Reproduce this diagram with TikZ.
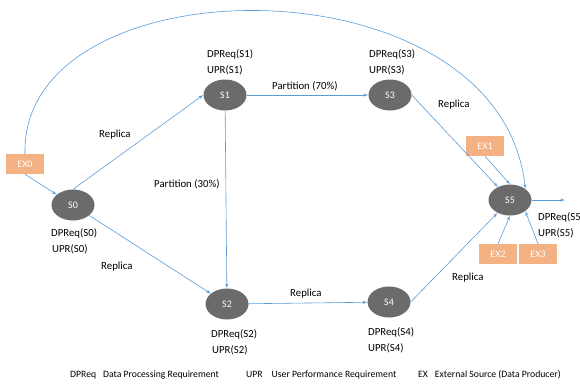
\documentclass[tikz,border=0pt]{standalone}
\usepackage{fontspec}
\setmainfont{Carlito}
\usetikzlibrary{arrows}
\usetikzlibrary{shapes.geometric}
\definecolor{linkblue}{HTML}{5B9BD5}
\definecolor{stngray}{HTML}{6B6B6B}
\definecolor{exorange}{HTML}{F4B183}
\tikzset{stn/.style = {ellipse, fill=stngray, text=white, minimum width=43, minimum height=31, inner sep=0,
                       font=\fontsize{10}{12}\selectfont}}
\tikzset{exbox/.style = {rectangle, fill=exorange, text=white, minimum width=38, minimum height=20, inner sep=0,
                         font=\fontsize{10}{12}\selectfont}}
\tikzset{link/.style = {draw=linkblue, line width=0.6, -latex'}}
\tikzset{lbl/.style = {anchor=west, inner sep=0, font=\fontsize{10.8}{12}\selectfont}}
\tikzset{legend/.style = {anchor=west, inner sep=0, font=\fontsize{9.7}{12}\selectfont}}

\begin{document}
\begin{tikzpicture}[x=1pt, y=-1pt]
    \useasboundingbox (0, 0) rectangle (580, 386);
    % stages
    \node [stn] (s0) at (73, 205) {S0};
    \node [stn] (s1) at (225, 95) {S1};
    \node [stn] (s3) at (390, 95) {S3};
    \node [stn] (s2) at (227, 304) {S2};
    \node [stn] (s4) at (389, 302) {S4};
    \node [stn] (s5) at (510, 200) {S5};
    % external sources
    \node [exbox] (ex0) at (25, 164) {EX0};
    \node [exbox] (ex1) at (485, 146) {EX1};
    \node [exbox] (ex2) at (498, 254) {EX2};
    \node [exbox] (ex3) at (538, 254) {EX3};
    \coordinate (out) at (565, 200);
    % requirements
    \node [lbl] (dp1) at (207, 54) {DPReq(S1)};
    \node [lbl] (up1) at (207, 70) {UPR(S1)};
    \node [lbl] (dp3) at (369, 54) {DPReq(S3)};
    \node [lbl] (up3) at (369, 70) {UPR(S3)};
    \node [lbl] (dp0) at (51, 233) {DPReq(S0)};
    \node [lbl] (up0) at (52, 249) {UPR(S0)};
    \node [lbl] (dp2) at (211, 334) {DPReq(S2)};
    \node [lbl] (up2) at (212, 350) {UPR(S2)};
    \node [lbl] (dp4) at (368, 332) {DPReq(S4)};
    \node [lbl] (up4) at (368, 348) {UPR(S4)};
    \node [lbl] (dp5) at (538, 217) {DPReq(S5)};
    \node [lbl] (up5) at (538, 233) {UPR(S5)};
    % edge labels
    \node [lbl] (r01) at (99, 135) {Replica};
    \node [lbl] (p12) at (154, 184) {Partition (30\%)};
    \node [lbl] (p13) at (272, 86) {Partition (70\%)};
    \node [lbl] (r35) at (438, 105) {Replica};
    \node [lbl] (r02) at (101, 267) {Replica};
    \node [lbl] (r24) at (290, 294) {Replica};
    \node [lbl] (r45) at (452, 278) {Replica};
    % legend
    \node [legend] (lg1) at (70, 375) {DPReq\hspace{7pt}Data Processing Requirement};
    \node [legend] (lg2) at (246, 375) {UPR\hspace{9pt}User Performance Requirement};
    \node [legend] (lg3) at (418, 375) {EX\hspace{7pt}External Source (Data Producer)};
    % connectors
    \draw [link] (ex0.north) .. controls (20, -40) and (500, -45) .. (s5.north east);
    \draw [link] (ex0.south) -- (s0);
    \draw [link] (s0.north) -- (s1.west);
    \draw [link] (s0) -- (s2);
    \draw [link] (s1) -- (s3);
    \draw [link] (s1) -- (s2);
    \draw [link] (s2) -- (s4);
    \draw [link] (s3.east) -- (s5);
    \draw [link] (s4.east) -- (s5);
    \draw [link] (ex1.south) -- (s5.north);
    \draw [link] (ex2.north) -- (s5.south);
    \draw [link] (ex3.north) -- (s5.south east);
    \draw [link] (s5.east) -- (out);
  \end{tikzpicture}
\end{document}
